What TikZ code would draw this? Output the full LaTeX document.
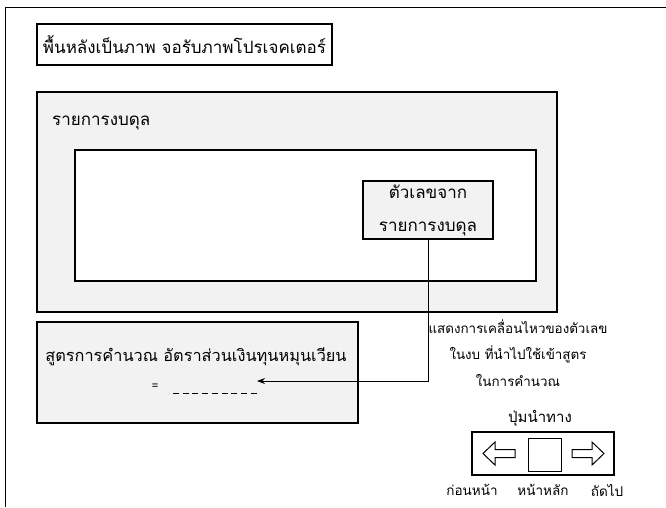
\documentclass[tikz,border=0pt]{standalone}
\usepackage{fontspec}
\newfontfamily\thaifont[Script=Thai]{Loma}
\usetikzlibrary{arrows.meta}
\definecolor{panelgray}{HTML}{F2F2F2}
\tikzset{panel/.style={draw=black, line width=1.3pt, fill=panelgray, inner sep=0pt},
  plainbox/.style={draw=black, line width=1.3pt, fill=white, inner sep=0pt},
  caption/.style={font=\thaifont\fontsize{17}{20}\selectfont, inner sep=0pt},
  smallcaption/.style={font=\thaifont\fontsize{13.5}{16}\selectfont, inner sep=0pt},
  pics/navarrow/.style={code={
    \draw[line width=1pt, fill=white] (-16,-4) -- (4,-4) -- (4,-11.5) -- (16,0)
      -- (4,11.5) -- (4,4) -- (-16,4) -- cycle;}}}

\begin{document}
\begin{tikzpicture}[x=1pt, y=-1pt]
\useasboundingbox (0,0) rectangle (666,507);
\draw[line width=0.8pt] (5,507)--(5,7)--(666,7);

% background title
\node[plainbox, caption, minimum width=295pt, minimum height=41pt] (background) at (184.5,44.5) {พื้นหลังเป็นภาพ จอรับภาพโปรเจคเตอร์};

% balance sheet panel
\node[panel, minimum width=520pt, minimum height=220pt] (sheet) at (297,202) {};
\node[caption, anchor=west] (sheettitle) at (52,123) {รายการงบดุล};
\node[plainbox, minimum width=461pt, minimum height=131pt] (sheetarea) at (305.5,215.5) {};
\node[panel, align=center, font=\thaifont\fontsize{17}{33}\selectfont, minimum width=130pt, minimum height=58pt] (source) at (428,210) {ตัวเลขจาก\\รายการงบดุล};

% formula panel
\node[panel, minimum width=321pt, minimum height=101pt] (formula) at (197.5,372.5) {};
\node[caption, font=\thaifont\fontsize{16.3}{18}\selectfont] (formulatext) at (196,357) {สูตรการคำนวณ อัตราส่วนเงินทุนหมุนเวียน};
\node[caption, font=\thaifont\fontsize{11}{12}\selectfont] (equals) at (155,387) {=};
\coordinate (blankstart) at (173,393);
\coordinate (blankend) at (260,393);
\draw[dash pattern=on 6pt off 3.7pt, line width=0.6pt] (blankstart) -- (blankend);
\coordinate (tip) at (257,381);
\draw[line width=1pt, -{Stealth[length=8pt, width=6pt]}] (source.south) |- (tip);

\node[caption, align=center, font=\thaifont\fontsize{13.4}{26.5}\selectfont] (flownote) at (518,353) {แสดงการเคลื่อนไหวของตัวเลข\\ในงบ ที่นำไปใช้เข้าสูตร\\ในการคำนวณ};

% navigation buttons
\node[smallcaption, font=\thaifont\fontsize{15}{16}\selectfont] (navtitle) at (540,418) {ปุ่มนำทาง};
\node[draw=black, line width=1.3pt, minimum width=142pt, minimum height=43pt] (navbar) at (543,453.5) {};
\pic[xscale=-1] (prev) at (499,453.5) {navarrow};
\node[draw=black, line width=1pt, minimum size=33pt] (home) at (544.5,454.5) {};
\pic (next) at (588,453.5) {navarrow};
\node[smallcaption] (prevlabel) at (472,490) {ก่อนหน้า};
\node[smallcaption] (homelabel) at (543,490) {หน้าหลัก};
\node[smallcaption] (nextlabel) at (607,490) {ถัดไป};
\end{tikzpicture}
\end{document}
